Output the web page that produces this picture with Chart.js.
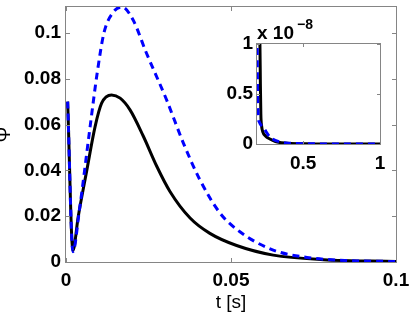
<!DOCTYPE html>
<html>
<head>
<meta charset="utf-8">
<script src="https://cdn.jsdelivr.net/npm/chart.js@4/dist/chart.umd.min.js"></script>
<style>
  html, body { margin: 0; padding: 0; background: #fff; }
  #wrap { position: relative; width: 415px; height: 317px; overflow: hidden; }
  #main { position: absolute; left: 0; top: 0; }
  #inset { position: absolute; left: 215px; top: 10px; }
  #expo { position: absolute; left: 257px; top: 23px; font-family: "Liberation Sans", Arial, sans-serif;
          font-weight: bold; font-size: 19px; line-height: 19px; color: #000; white-space: nowrap; }
  #expo sup { font-size: 14px; position: relative; top: -8px; margin-left: 3px; vertical-align: top; }
</style>
</head>
<body>
<div id="wrap">
  <canvas id="main" width="415" height="317"></canvas>
  <canvas id="inset" width="175" height="165"></canvas>
  <div id="expo">x 10<sup>&minus;8</sup></div>
</div>
<script>
// ---- data ----
const blackT = [0.0005, 0.0021, 0.0037, 0.0063, 0.0088, 0.0108, 0.0138, 0.0164, 0.0194, 0.0234, 0.0275, 0.0315, 0.0376, 0.0436, 0.0517, 0.0628, 0.078, 0.1];
const blackV = [0.070, 0.005, 0.0198, 0.040, 0.059, 0.0693, 0.0729, 0.0715, 0.0664, 0.0550, 0.0418, 0.0308, 0.0192, 0.0125, 0.0072, 0.003, 0.001, 0.0002];
const blueT  = [0.0005, 0.0021, 0.0040, 0.0073, 0.0095, 0.0115, 0.0143, 0.017, 0.0203, 0.0244, 0.0305, 0.0356, 0.0406, 0.0467, 0.0527, 0.0628, 0.073, 0.086, 0.1];
const blueV  = [0.070, 0.0045, 0.022, 0.059, 0.083, 0.100, 0.109, 0.1113, 0.1057, 0.0911, 0.0707, 0.0518, 0.0358, 0.0213, 0.0132, 0.0052, 0.002, 0.0006, 0.0002];

// inset (values in units of 1e-8)
const insetBlackT = [0.2, 0.214, 0.219, 0.222, 0.225, 0.230, 0.238, 0.255, 0.284, 0.32, 0.36, 0.42, 0.55, 0.7, 1.0];
const insetBlackV = [30, 1.6, 1.0, 0.6, 0.3, 0.18, 0.12, 0.08, 0.05, 0.025, 0.012, 0.005, 0.001, 0, 0];
const insetBlueT  = [0.2, 0.202, 0.205, 0.208, 0.215, 0.243, 0.284, 0.35, 0.42, 0.55, 0.7, 1.0];
const insetBlueV  = [1.2, 0.8, 0.45, 0.28, 0.22, 0.16, 0.07, 0.02, 0.007, 0.002, 0, 0];

const mainXTicks = [0, 0.05, 0.1];
const mainXLabels = ['0', '0.05', '0.1'];
const mainYTicks = [0, 0.02, 0.04, 0.06, 0.08, 0.1];
const mainYLabels = ['0', '0.02', '0.04', '0.06', '0.08', '0.1'];
const insetXTicks = [0.5, 1];
const insetXLabels = ['0.5', '1'];
const insetYTicks = [0, 0.5, 1];
const insetYLabels = ['0', '0.5', '1'];
const mainYMax = 0.1113;

const pts = (t, v) => t.map((x, i) => ({ x: x, y: v[i] }));

Chart.defaults.color = '#000';
Chart.defaults.font.family = '"Liberation Sans", Arial, sans-serif';

const tickFont = { family: '"Liberation Sans", Arial, sans-serif', size: 19, weight: 'bold' };

function boxPlugin(xTicks, yTicks, len, fill) {
  return {
    id: 'box',
    beforeDraw(chart) {
      if (!fill) return;
      const a = chart.chartArea, c = chart.ctx;
      c.save(); c.fillStyle = '#fff';
      c.fillRect(a.left, a.top, a.right - a.left, a.bottom - a.top);
      c.restore();
    },
    afterDraw(chart) {
      const a = chart.chartArea, c = chart.ctx;
      const xs = chart.scales.x, ys = chart.scales.y;
      c.save();
      c.strokeStyle = '#858585';
      c.lineWidth = 1;
      c.strokeRect(a.left - 0.5, a.top - 0.5, a.right - a.left + 1, a.bottom - a.top + 1);
      c.beginPath();
      xTicks.forEach(v => {
        const px = Math.round(xs.getPixelForValue(v)) + 0.5;
        c.moveTo(px, a.bottom); c.lineTo(px, a.bottom - len);
        c.moveTo(px, a.top); c.lineTo(px, a.top + len);
      });
      yTicks.forEach(v => {
        const py = Math.round(ys.getPixelForValue(v)) + 0.5;
        c.moveTo(a.left, py); c.lineTo(a.left + len, py);
        c.moveTo(a.right, py); c.lineTo(a.right - len, py);
      });
      c.stroke();
      c.restore();
    }
  };
}

function lineDs(data, color, dashed) {
  return {
    data: data,
    borderColor: color,
    borderWidth: 3,
    borderDash: dashed ? [7, 5] : [],
    pointRadius: 0,
    fill: false,
    cubicInterpolationMode: 'monotone',
    borderCapStyle: 'butt'
  };
}

new Chart(document.getElementById('main'), {
  type: 'line',
  data: {
    datasets: [
      lineDs(pts(blueT, blueV), '#0000ff', true),
      lineDs(pts(blackT, blackV), '#000000', false)
    ]
  },
  options: {
    responsive: false,
    animation: false,
    devicePixelRatio: 1,
    layout: { padding: { left: 0, top: 7, right: 19, bottom: 0 } },
    plugins: { legend: { display: false }, tooltip: { enabled: false } },
    scales: {
      x: {
        type: 'linear', min: 0, max: 0.1,
        grid: { display: false, drawTicks: false },
        border: { display: false },
        afterBuildTicks: s => { s.ticks = mainXTicks.map(v => ({ value: v })); },
        afterFit: s => { s.height = 55; s.paddingLeft = 0; s.paddingRight = 0; },
        ticks: {
          font: tickFont, padding: 7, maxRotation: 0, autoSkip: false,
          callback: (v) => mainXLabels[mainXTicks.indexOf(v)]
        },
        title: { display: true, text: 't [s]', font: { family: '"Liberation Sans", Arial, sans-serif', size: 19 }, padding: { top: 0, bottom: 3 } }
      },
      y: {
        type: 'linear', min: 0, max: mainYMax,
        grid: { display: false, drawTicks: false },
        border: { display: false },
        afterBuildTicks: s => { s.ticks = mainYTicks.map(v => ({ value: v })); },
        afterFit: s => { s.width = 66; s.paddingTop = 0; s.paddingBottom = 0; },
        ticks: {
          font: tickFont, padding: 5, autoSkip: false,
          callback: (v) => mainYLabels[mainYTicks.indexOf(v)]
        },
        title: { display: true, text: 'Ψ', font: { family: '"Liberation Sans", Arial, sans-serif', size: 19 }, padding: { top: -7, bottom: 0 } }
      }
    }
  },
  plugins: [boxPlugin(mainXTicks, mainYTicks, 4, false)]
});

new Chart(document.getElementById('inset'), {
  type: 'line',
  data: {
    datasets: [
      lineDs(pts(insetBlueT, insetBlueV), '#0000ff', true),
      lineDs(pts(insetBlackT, insetBlackV), '#000000', false)
    ]
  },
  options: {
    responsive: false,
    animation: false,
    devicePixelRatio: 1,
    layout: { padding: { left: 0, top: 34, right: 10, bottom: 0 } },
    plugins: { legend: { display: false }, tooltip: { enabled: false } },
    scales: {
      x: {
        type: 'linear', min: 0.2, max: 1,
        grid: { display: false, drawTicks: false },
        border: { display: false },
        afterBuildTicks: s => { s.ticks = insetXTicks.map(v => ({ value: v })); },
        afterFit: s => { s.height = 31; s.paddingLeft = 0; s.paddingRight = 0; },
        ticks: {
          font: tickFont, padding: 8, maxRotation: 0, autoSkip: false,
          callback: (v) => insetXLabels[insetXTicks.indexOf(v)]
        }
      },
      y: {
        type: 'linear', min: 0, max: 1,
        grid: { display: false, drawTicks: false },
        border: { display: false },
        afterBuildTicks: s => { s.ticks = insetYTicks.map(v => ({ value: v })); },
        afterFit: s => { s.width = 42; s.paddingTop = 0; s.paddingBottom = 0; },
        ticks: {
          font: tickFont, padding: 4, autoSkip: false,
          callback: (v) => insetYLabels[insetYTicks.indexOf(v)]
        }
      }
    }
  },
  plugins: [boxPlugin(insetXTicks, insetYTicks, 3, true)]
});
</script>
</body>
</html>
